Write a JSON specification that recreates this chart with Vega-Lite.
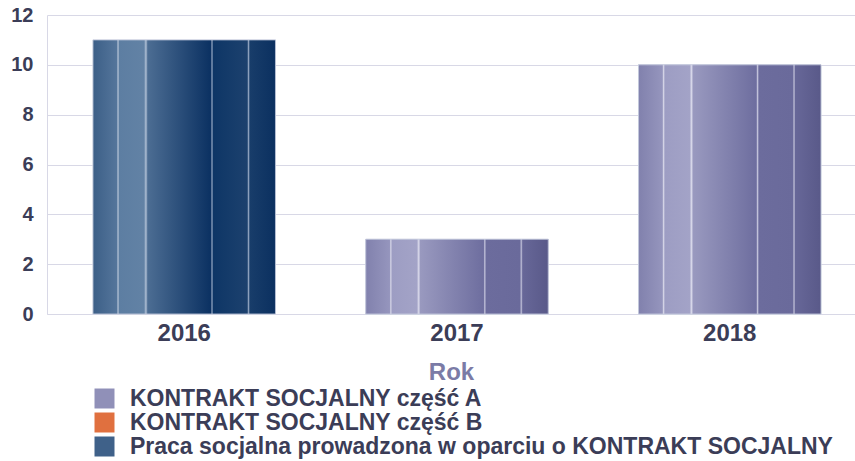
{
  "$schema": "https://vega.github.io/schema/vega-lite/v6.json",
  "autosize": "none",
  "width": 808,
  "height": 299,
  "padding": {"left": 47, "top": 15, "right": 0, "bottom": 147},
  "background": "white",
  "config": {
    "view": {"stroke": null},
    "font": "Liberation Sans"
  },
  "data": {
    "values": [
      {"Rok": "2016", "seria": "Praca socjalna prowadzona w oparciu o KONTRAKT SOCJALNY", "wartosc": 11},
      {"Rok": "2017", "seria": "KONTRAKT SOCJALNY część A", "wartosc": 3},
      {"Rok": "2018", "seria": "KONTRAKT SOCJALNY część A", "wartosc": 10}
    ]
  },
  "encoding": {
    "x": {
      "field": "Rok",
      "type": "nominal",
      "scale": {"paddingInner": 0.331, "paddingOuter": 0.1466, "align": 0.575},
      "axis": {
        "labelAngle": 0,
        "labelFont": "Liberation Sans",
        "labelFontWeight": "bold",
        "labelFontSize": 24,
        "labelColor": "#3b3d57",
        "labelPadding": 7,
        "ticks": false,
        "domain": true,
        "domainColor": "#d8d8e6",
        "title": "Rok",
        "titleFont": "Liberation Sans",
        "titleFontWeight": "bold",
        "titleFontSize": 24,
        "titleColor": "#7b7ba6",
        "titlePadding": 15
      }
    },
    "y": {
      "field": "wartosc",
      "type": "quantitative",
      "scale": {"domain": [0, 12]},
      "axis": {
        "values": [0, 2, 4, 6, 8, 10, 12],
        "labelFont": "Liberation Sans",
        "labelFontWeight": "bold",
        "labelFontSize": 20,
        "labelColor": "#3b3d57",
        "labelPadding": 14,
        "ticks": false,
        "domain": true,
        "domainColor": "#d8d8e6",
        "gridColor": "#d8d8e6",
        "title": null
      }
    }
  },
  "layer": [
    {
      "mark": {"type": "bar", "stroke": "#c9cfe0", "strokeWidth": 0.8},
      "encoding": {
        "color": {
          "field": "seria",
          "type": "nominal",
          "scale": {
            "domain": [
              "KONTRAKT SOCJALNY część A",
              "KONTRAKT SOCJALNY część B",
              "Praca socjalna prowadzona w oparciu o KONTRAKT SOCJALNY"
            ],
            "range": ["#9090b8", "#e0703f", "#3f6189"]
          },
          "legend": {
            "orient": "none",
            "legendX": 46,
            "legendY": 372,
            "direction": "vertical",
            "title": null,
            "symbolType": "square",
            "symbolSize": 400,
            "symbolStrokeWidth": 0,
            "symbolOpacity": 1,
            "labelFont": "Liberation Sans",
            "labelFontWeight": "bold",
            "labelFontSize": 23,
            "labelColor": "#3b3d57",
            "labelOffset": 14,
            "labelLimit": 900,
            "rowPadding": -1
          }
        }
      }
    },
    {
      "transform": [{"filter": "datum.seria === 'KONTRAKT SOCJALNY część A'"}],
      "mark": {
        "type": "bar",
        "stroke": "#c9cfe0",
        "strokeWidth": 0.8,
        "color": {"gradient": "linear", "x1": 0, "y1": 0, "x2": 1, "y2": 0, "stops": [
          {"offset": 0, "color": "#8181ad"},
          {"offset": 0.13, "color": "#9595bd"},
          {"offset": 0.137, "color": "#d4d4e6"},
          {"offset": 0.145, "color": "#9d9dc3"},
          {"offset": 0.28, "color": "#a3a3c7"},
          {"offset": 0.29, "color": "#d8d8ea"},
          {"offset": 0.3, "color": "#9999bf"},
          {"offset": 0.645, "color": "#6e6e9f"},
          {"offset": 0.652, "color": "#c2c2da"},
          {"offset": 0.66, "color": "#6c6c9d"},
          {"offset": 0.845, "color": "#6a6a9b"},
          {"offset": 0.852, "color": "#c0c0d8"},
          {"offset": 0.86, "color": "#676798"},
          {"offset": 1, "color": "#595989"}
        ]}
      },
      "encoding": {}
    },
    {
      "transform": [{"filter": "datum.seria === 'Praca socjalna prowadzona w oparciu o KONTRAKT SOCJALNY'"}],
      "mark": {
        "type": "bar",
        "stroke": "#c9cfe0",
        "strokeWidth": 0.8,
        "color": {"gradient": "linear", "x1": 0, "y1": 0, "x2": 1, "y2": 0, "stops": [
          {"offset": 0, "color": "#3c5f87"},
          {"offset": 0.13, "color": "#54759b"},
          {"offset": 0.137, "color": "#b3c2d6"},
          {"offset": 0.145, "color": "#5d7ea2"},
          {"offset": 0.28, "color": "#6282a5"},
          {"offset": 0.29, "color": "#b0c0d5"},
          {"offset": 0.3, "color": "#4c6d93"},
          {"offset": 0.645, "color": "#0b3162"},
          {"offset": 0.652, "color": "#8fa3bf"},
          {"offset": 0.66, "color": "#0e3666"},
          {"offset": 0.845, "color": "#1c416e"},
          {"offset": 0.852, "color": "#8fa3bf"},
          {"offset": 0.86, "color": "#183d6a"},
          {"offset": 1, "color": "#0b3060"}
        ]}
      },
      "encoding": {}
    }
  ]
}
